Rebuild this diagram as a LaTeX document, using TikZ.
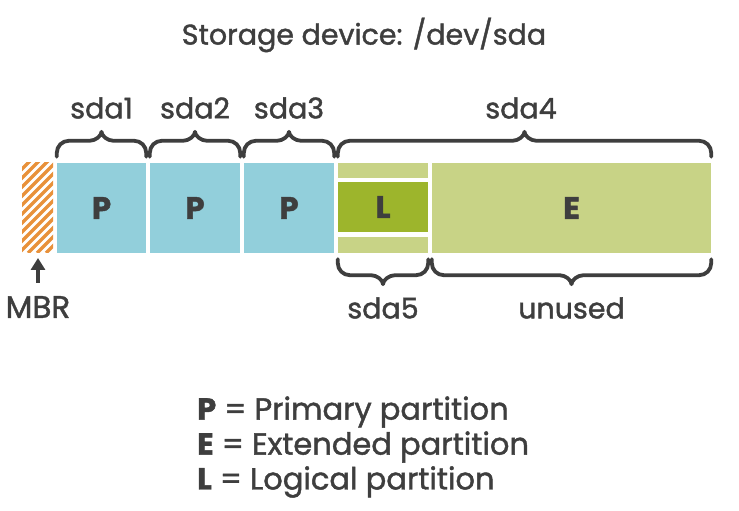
\documentclass[tikz,border=0pt]{standalone}
\usepackage{fontspec}
\setmainfont{Poppins}[FakeBold=1.4]
\usetikzlibrary{calc,arrows.meta}
\definecolor{ink}{HTML}{3E3E3E}
\definecolor{prim}{HTML}{92CFDB}
\definecolor{ext}{HTML}{C8D386}
\definecolor{logi}{HTML}{9DB52C}
\definecolor{mbr}{HTML}{E8913A}
\tikzset{
  part/.style={draw=none,minimum height=90pt,inner sep=0pt,font=\fontsize{31}{34}\selectfont\bfseries,text=ink},
  lbl/.style={font=\fontsize{28.5}{32}\selectfont,text=ink,inner sep=0pt},
  brc/.style={draw=ink,line width=3.8pt,line cap=round,line join=round},
  leg/.style={font=\fontsize{30.5}{34}\selectfont,text=ink,inner sep=0pt,anchor=west}
}
\newcommand\topbrace[2]{%
  \draw[brc] ([yshift=6pt]#1) -- ++(0,4) arc[start angle=180,end angle=90,radius=12]
    -- ($(#1)!0.5!(#2)+(-12,22)$) .. controls +(6,0) and +(0,-4) .. ($(#1)!0.5!(#2)+(0,31)$)
    .. controls +(0,-4) and +(-6,0) .. ($(#1)!0.5!(#2)+(12,22)$)
    -- ($(#2)+(-12,22)$) arc[start angle=90,end angle=0,radius=12] -- ([yshift=6pt]#2);}
\newcommand\botbrace[2]{%
  \draw[brc] ([yshift=-6pt]#1) -- ++(0,-4) arc[start angle=180,end angle=270,radius=12]
    -- ($(#1)!0.5!(#2)+(-12,-22)$) .. controls +(6,0) and +(0,4) .. ($(#1)!0.5!(#2)+(0,-31)$)
    .. controls +(0,4) and +(-6,0) .. ($(#1)!0.5!(#2)+(12,-22)$)
    -- ($(#2)+(-12,-22)$) arc[start angle=270,end angle=360,radius=12] -- ([yshift=-6pt]#2);}
\begin{document}
\begin{tikzpicture}[x=1pt,y=1pt]
\useasboundingbox (0,0) rectangle (739,511);
% title
\node[lbl] (title) at (364,476) {Storage device: /dev/sda};
% MBR hatched
\begin{scope}
\clip (22,258) rectangle (53,348);
\foreach \i in {-120,-111,...,60} \draw[mbr,line width=3.2pt] (22+\i,258) -- ++(120,120);
\end{scope}
\coordinate (mbrtip) at (38,253);
\coordinate (mbrtail) at (38,228);
% primary partitions
\node[part,fill=prim,minimum width=89pt] (p1) at (101.5,303) {P};
\node[part,fill=prim,minimum width=90pt] (p2) at (195,303) {P};
\node[part,fill=prim,minimum width=90pt] (p3) at (289,303) {P};
% extended
\node[part,fill=ext,minimum width=279pt] (e) at (571.5,303) {E};
\node[part,fill=ext,minimum width=90pt,minimum height=15pt] (ltop) at (383,340.5) {};
\node[part,fill=logi,minimum width=90pt,minimum height=50pt] (l) at (383,304) {L};
\node[part,fill=ext,minimum width=90pt,minimum height=16pt] (lbot) at (383,266) {};
% top braces
\topbrace{p1.north west}{p1.north east}
\topbrace{p2.north west}{p2.north east}
\topbrace{p3.north west}{p3.north east}
\topbrace{ltop.north west}{e.north east}
\node[lbl] (s1) at (101.5,403) {sda1};
\node[lbl] (s2) at (195,403) {sda2};
\node[lbl] (s3) at (289,403) {sda3};
\node[lbl] (s4) at (521,403) {sda4};
% bottom braces
\botbrace{lbot.south west}{lbot.south east}
\botbrace{e.south west}{e.south east}
\node[lbl] (s5) at (383,203) {sda5};
\node[lbl] (un) at (571.5,203) {unused};
% MBR
\draw[ink,line width=3.6pt,-{Triangle[length=12pt,width=14pt]}] (mbrtail) -- (mbrtip);
\node[lbl,font=\fontsize{31}{34}\selectfont] (mbr) at (38,204) {MBR};
% legend
\node[leg] (lp) at (197,99) {\textbf{P} = Primary partition};
\node[leg] (le) at (197,64) {\textbf{E} = Extended partition};
\node[leg] (ll) at (197,29) {\textbf{L} = Logical partition};
\end{tikzpicture}
\end{document}
